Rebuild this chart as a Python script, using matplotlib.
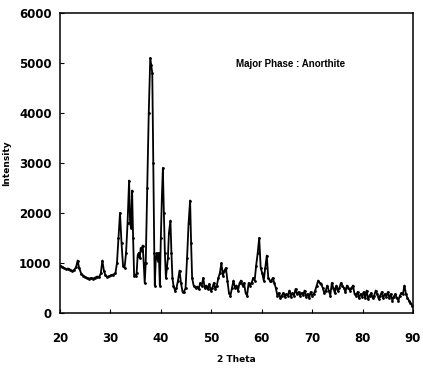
import matplotlib
matplotlib.use("Agg")
import matplotlib.pyplot as plt

two_theta = [20.0, 20.4, 20.8, 21.2, 21.6, 22.0, 22.4, 22.8, 23.2, 23.5, 23.8, 24.2, 24.6, 25.0, 25.4, 25.8,
             26.2, 26.6, 27.0, 27.4, 27.8, 28.1, 28.4, 28.7, 29.0, 29.4, 29.8, 30.2, 30.6, 31.0, 31.3, 31.6,
             31.9, 32.2, 32.5, 32.8, 33.1, 33.4, 33.7, 33.9, 34.1, 34.3, 34.5, 34.7, 35.0, 35.2, 35.4, 35.6,
             35.8, 36.0, 36.2, 36.4, 36.6, 36.8, 37.0, 37.3, 37.6, 37.9, 38.1, 38.3, 38.5, 38.7, 38.8, 39.0,
             39.2, 39.4, 39.6, 39.8, 40.0, 40.2, 40.4, 40.6, 40.8, 41.0, 41.2, 41.4, 41.6, 41.9, 42.1, 42.3,
             42.5, 42.8, 43.1, 43.4, 43.7, 44.0, 44.3, 44.6, 44.9, 45.2, 45.5, 45.8, 46.0, 46.2, 46.5, 46.9,
             47.2, 47.5, 47.8, 48.1, 48.4, 48.7, 49.0, 49.3, 49.6, 49.9, 50.2, 50.5, 50.8, 51.1, 51.4, 51.7,
             52.0, 52.3, 52.6, 52.9, 53.2, 53.5, 53.8, 54.1, 54.4, 54.7, 55.0, 55.3, 55.6, 55.9, 56.2, 56.5,
             56.8, 57.1, 57.4, 57.7, 58.0, 58.3, 58.6, 58.9, 59.2, 59.5, 59.8, 60.1, 60.4, 60.7, 61.0, 61.3,
             61.6, 61.9, 62.2, 62.5, 62.8, 63.1, 63.4, 63.7, 64.0, 64.3, 64.6, 64.9, 65.2, 65.5, 65.8, 66.1,
             66.4, 66.7, 67.0, 67.3, 67.6, 67.9, 68.2, 68.5, 68.8, 69.1, 69.4, 69.7, 70.0, 70.3, 70.6, 70.9,
             71.2, 71.5, 71.8, 72.1, 72.4, 72.7, 73.0, 73.3, 73.6, 73.9, 74.2, 74.5, 74.8, 75.1, 75.4, 75.7,
             76.0, 76.3, 76.6, 76.9, 77.2, 77.5, 77.8, 78.1, 78.4, 78.7, 79.0, 79.3, 79.6, 79.9, 80.2, 80.5,
             80.8, 81.1, 81.4, 81.7, 82.0, 82.3, 82.6, 82.9, 83.2, 83.5, 83.8, 84.1, 84.4, 84.7, 85.0, 85.3,
             85.6, 85.9, 86.2, 86.5, 86.8, 87.1, 87.4, 87.7, 88.0, 88.3, 88.6, 88.9, 89.2, 89.5, 89.8]
intensity = [950, 930, 900, 880, 890, 870, 840, 860, 920, 1050, 900, 790, 750, 720, 700, 690,
             700, 690, 710, 730, 720, 800, 1050, 850, 760, 720, 740, 760, 770, 800, 1000, 1500,
             2000, 1400, 950, 900, 1200, 1800, 2650, 1800, 1700, 2450, 1500, 750, 750, 800, 1150, 1200,
             1100, 1300, 1250, 1350, 1000, 600, 1000, 2500, 4000, 5100, 4950, 4800, 3000, 1200, 550, 1100,
             1200, 1050, 1200, 550, 1500, 2300, 2900, 2000, 1200, 700, 900, 1100, 1600, 1850, 1200, 700,
             550, 450, 500, 650, 850, 600, 420, 430, 500, 1100, 1800, 2250, 1400, 700, 550, 500,
             530, 480, 600, 550, 700, 500, 550, 480, 580, 450, 500, 600, 480, 550, 700, 800,
             1000, 750, 850, 900, 650, 400, 350, 500, 650, 500, 550, 450, 600, 650, 550, 600,
             400, 350, 600, 550, 600, 700, 650, 950, 1200, 1500, 900, 800, 650, 900, 1150, 700,
             650, 650, 700, 600, 500, 350, 400, 300, 350, 400, 330, 380, 350, 450, 330, 400,
             350, 480, 380, 420, 350, 400, 360, 450, 330, 380, 300, 420, 350, 380, 450, 550,
             650, 600, 580, 500, 400, 450, 550, 450, 350, 600, 500, 400, 550, 450, 500, 600,
             550, 500, 420, 550, 500, 450, 500, 550, 380, 350, 420, 300, 380, 330, 420, 300,
             450, 280, 350, 400, 300, 350, 450, 380, 280, 350, 420, 300, 380, 330, 420, 300,
             380, 250, 330, 380, 300, 250, 350, 400, 380, 550, 380, 300, 250, 200, 150]

x_ticks = [20, 30, 40, 50, 60, 70, 80, 90]
y_ticks = [0, 1000, 2000, 3000, 4000, 5000, 6000]

plt.rcParams['font.family'] = ['DejaVu Sans']
fig = plt.figure(figsize=(4.23, 3.71), dpi=100)
ax = fig.add_axes([0.1418, 0.1563, 0.8346, 0.8087])
ax.plot(two_theta, intensity, color='black', lw=1.3, marker='o', ms=2.0, mew=0)
ax.set_xlim(20, 90)
ax.set_ylim(0, 6000)
ax.set_xticks(x_ticks)
ax.set_yticks(y_ticks)
ax.tick_params(direction='in', length=3, width=0.8, labelsize=8.5)
ax.tick_params(axis='x', pad=14)
ax.tick_params(axis='y', pad=6)
for lab in ax.get_xticklabels() + ax.get_yticklabels():
    lab.set_fontweight('bold')
for s in ax.spines.values():
    s.set_linewidth(1.1)
ax.set_xlabel('2 Theta', fontsize=6.5, fontweight='bold', labelpad=7)
ax.set_ylabel('Intensity', fontsize=6.5, fontweight='bold', labelpad=6)
ax.text(0.5, 0.83, 'Major Phase : Anorthite', transform=ax.transAxes, fontsize=7,
        fontweight='bold', ha='left', va='center', family='Liberation Sans')
fig.savefig('out.png', dpi=100)
